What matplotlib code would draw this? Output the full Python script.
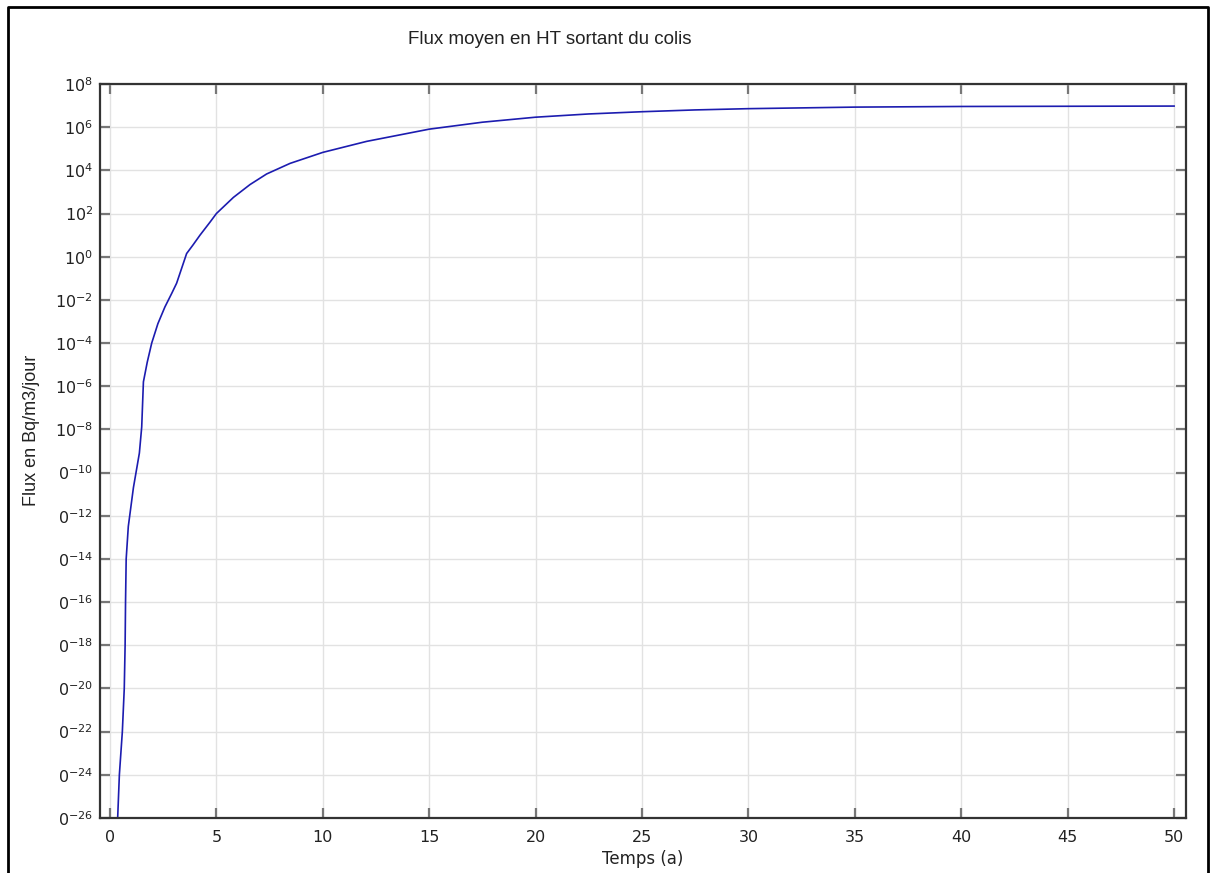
import matplotlib
matplotlib.use("Agg")
import matplotlib.pyplot as plt
from matplotlib.lines import Line2D

# time in years, mean HT flux leaving the package (Bq/m3/day)
t_years = [0.34, 0.36, 0.44, 0.58, 0.67, 0.71, 0.73, 0.76, 0.86, 1.1, 1.38, 1.49,
           1.57, 1.75, 1.96, 2.25, 2.58, 2.9, 3.13, 3.35, 3.6, 3.9, 4.23, 4.7,
           5.0, 5.8, 6.58, 7.36, 8.46, 10, 12.06, 15, 17.5, 20, 22.5, 25, 27.5,
           30, 35, 40, 45, 50]
flux = [1e-27, 1e-26, 1e-24, 1e-22, 1e-20, 1e-18, 1e-16, 1e-14, 3.2e-13, 2.0e-11,
        8e-10, 1.3e-8, 1.6e-6, 1.3e-5, 1e-4, 7.9e-4, 4.7e-3, 2.0e-2, 5.9e-2, 0.26,
        1.4, 3.5, 10, 40, 100, 560, 2.2e3, 6.8e3, 2.1e4, 6.8e4, 2.2e5, 8.1e5,
        1.7e6, 2.9e6, 4.1e6, 5.2e6, 6.3e6, 7.2e6, 8.5e6, 9.1e6, 9.3e6, 9.5e6]

x_ticks = [0, 5, 10, 15, 20, 25, 30, 35, 40, 45, 50]
y_exps = [8, 6, 4, 2, 0, -2, -4, -6, -8, -10, -12, -14, -16, -18, -20, -22, -24, -26]
# labels below 1e-8 are cut off in the original ("0^-10" ...)
y_labels = [r"$10^{%d}$" % e if e >= -8 else r"$0^{%d}$" % e for e in y_exps]

fig = plt.figure(figsize=(12.15, 8.73), dpi=100)
ax = fig.add_axes([100 / 1215, 55 / 873, 1086 / 1215, 734 / 873])

ax.plot(t_years, flux, color="#1c1cb0", linewidth=1.2)

ax.set_yscale("log")
ax.set_xlim(-0.47, 50.56)
ax.set_ylim(1e-26, 1e8)
ax.set_xticks(x_ticks)
ax.set_yticks([10.0 ** e for e in y_exps])
ax.set_yticklabels(y_labels)
ax.minorticks_off()

ax.grid(True, color="#e2e2e2", linewidth=1)
ax.tick_params(direction="in", length=7, width=1.6, color="#777777",
               top=True, right=True, labelsize=11.5, labelcolor="#222222")
ax.tick_params(axis="x", pad=9)
ax.tick_params(axis="y", pad=5)
for side in ["left", "right", "top", "bottom"]:
    ax.spines[side].set_color("#333333")
    ax.spines[side].set_linewidth(1.6)

ax.set_xlabel("Temps (a)", fontsize=12, color="#222222", labelpad=3)
fig.text(32 / 1215, 1 - 430 / 873, "Flux en Bq/m3/jour", rotation=90,
         ha="center", va="center", fontsize=13, family="Liberation Sans",
         color="#222222")
fig.text(550 / 1215, 1 - 40 / 873, "Flux moyen en HT sortant du colis",
         ha="center", va="center", fontsize=13.5, family="Liberation Sans",
         color="#222222")

# screenshot frame (bottom edge is cut off)
fx = [7.5 / 1215, 7.5 / 1215, 1208 / 1215, 1208 / 1215]
fy = [-0.01, 1 - 6.5 / 873, 1 - 6.5 / 873, -0.01]
fig.add_artist(Line2D(fx, fy, transform=fig.transFigure, color="black", linewidth=2))

fig.savefig("out.png", dpi=100)
